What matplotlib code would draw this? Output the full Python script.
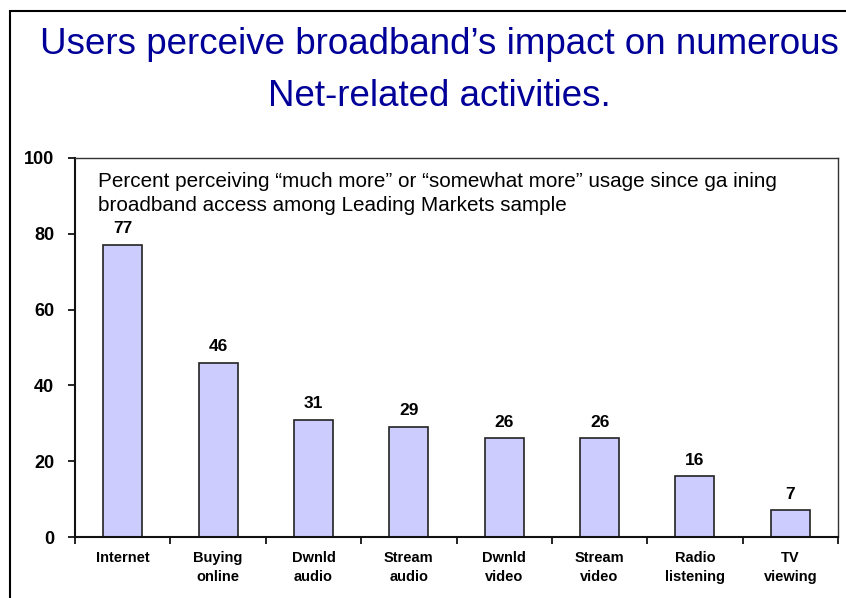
import matplotlib
matplotlib.use("Agg")
import matplotlib.pyplot as plt
from matplotlib.patches import Rectangle
import numpy as np

categories = ["Internet", "Buying\nonline", "Dwnld\naudio", "Stream\naudio",
              "Dwnld\nvideo", "Stream\nvideo", "Radio\nlistening", "TV\nviewing"]
values = [77, 46, 31, 29, 26, 26, 16, 7]
yticks = [0, 20, 40, 60, 80, 100]
title_lines = ["Users perceive broadband\u2019s impact on numerous", "Net-related activities."]
note_lines = ["Percent perceiving \u201cmuch more\u201d or \u201csomewhat more\u201d usage since ga ining",
              "broadband access among Leading Markets sample"]

plt.rcParams['font.family'] = ['Liberation Sans', 'DejaVu Sans']

W, H = 846, 598
fig = plt.figure(figsize=(W/100, H/100), dpi=100)
ax = fig.add_axes([75/W, 1-537/H, 763/W, 379/H])

x = np.arange(len(values))
ax.bar(x, values, width=0.41, color="#CCCCFF", edgecolor="#222222", linewidth=1.2, zorder=2)
for xi, v in zip(x, values):
    ax.text(xi, v + 2.3, str(v), ha="center", va="bottom", fontsize=12.5, fontweight="bold")

ax.set_xlim(-0.5, len(values) - 0.5)
ax.set_ylim(0, 100)
ax.set_yticks(yticks)
ax.set_yticklabels([str(t) for t in yticks], fontsize=13, fontweight="bold")
ax.tick_params(axis="y", length=5, width=1.2, pad=10, direction="out")

ax.set_xticks(np.arange(len(values) + 1) - 0.5)
ax.set_xticklabels([])
ax.tick_params(axis="x", which="major", length=5, width=1.2, direction="out")
ax.set_xticks(x, minor=True)
ax.set_xticklabels(categories, minor=True, fontsize=10.5, fontweight="bold", linespacing=1.45)
ax.tick_params(axis="x", which="minor", length=0, pad=10)

for s in ["left", "bottom"]:
    ax.spines[s].set_linewidth(1.5)
    ax.spines[s].set_color("#111111")
for s in ["top", "right"]:
    ax.spines[s].set_linewidth(1.0)
    ax.spines[s].set_color("#333333")

for line, yb in zip(note_lines, [187, 211]):
    fig.text(98/W, 1-yb/H, line, ha="left", va="baseline", fontsize=14.9)

for line, yb in zip(title_lines, [54, 106]):
    fig.text(439/W, 1-yb/H, line, ha="center", va="baseline", fontsize=26.5, color="#000099")

fig.patches.append(Rectangle((10/W, -0.05), 1.1, (H-11)/H + 0.05, transform=fig.transFigure,
                             fill=False, edgecolor="black", linewidth=1.5))

fig.savefig("out.png", dpi=100)
